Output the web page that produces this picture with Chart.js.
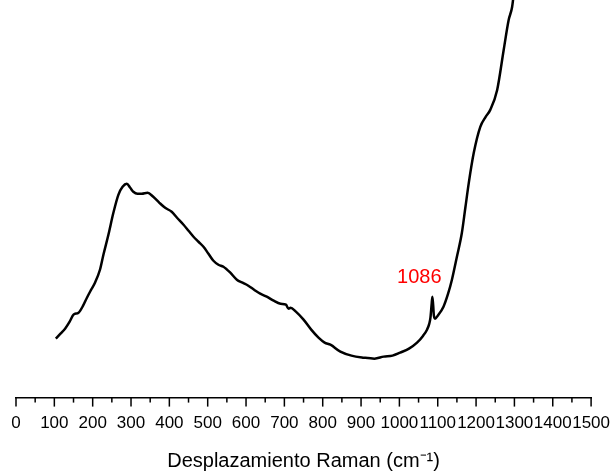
<!DOCTYPE html>
<html>
<head>
<meta charset="utf-8">
<script src="https://cdn.jsdelivr.net/npm/chart.js@4"></script>
<style>
  body { margin: 0; background: #fff; }
  #wrap { width: 610px; height: 475px; }
</style>
</head>
<body>
<div id="wrap"><canvas id="grafico-raman"></canvas></div>
<script>
// Raman shift (cm-1) and intensity (arb. units)
const desplazamiento = [104, 116, 128, 140, 150, 163, 175, 185, 196, 206, 219, 228, 241, 254, 267, 278, 289,
  298, 306, 317, 328, 343, 358, 374, 389, 406, 420, 437, 450, 463, 476, 489, 502, 515, 528, 541, 559, 576,
  591, 606, 621, 637, 654, 672, 690, 704, 711, 716, 730, 750, 770, 789, 805, 820, 846, 875, 907, 935, 959,
  982, 1002, 1025, 1046, 1062, 1072, 1078, 1081, 1084, 1086, 1088, 1090, 1093, 1100, 1115, 1127, 1137,
  1150, 1163, 1172, 1181, 1194, 1211, 1225, 1237, 1255, 1272, 1285, 1294, 1300];
const intensidad = [59, 64, 69, 76, 83, 85, 92, 100, 108, 115, 128, 143, 163, 185, 203, 211, 214,
  210, 206, 204, 204, 205, 201, 195, 190, 186, 180, 173, 167, 161, 156, 151, 144, 137, 133, 131, 125, 118,
  115, 112, 108, 104, 101, 97, 94, 93, 89, 90, 86, 78, 68, 60, 55, 53, 46, 42, 40, 39, 41,
  42, 45, 49, 55, 62, 68, 74, 80, 93, 101, 93, 82, 79, 82, 91, 104, 118,
  141, 165, 190, 215, 245, 271, 281, 288, 308, 348, 378, 391, 410];
const ticksX = [0, 100, 200, 300, 400, 500, 600, 700, 800, 900, 1000, 1100, 1200, 1300, 1400, 1500];
const picoEtiqueta = 1086;

const puntos = desplazamiento.map((x, i) => ({ x: x, y: intensidad[i] }));

// tick marks (major 100, minor 50) and the red peak label
const extras = {
  id: 'extras',
  afterDraw(chart) {
    const ctx = chart.ctx;
    const sx = chart.scales.x;
    const sy = chart.scales.y;
    const base = sx.top;
    ctx.save();
    ctx.strokeStyle = '#000';
    ctx.lineWidth = 1.5;
    for (let i = 0; i < ticksX.length; i++) {
      const px = sx.getPixelForValue(ticksX[i]);
      ctx.beginPath();
      ctx.moveTo(px, base);
      ctx.lineTo(px, base + 9);
      ctx.stroke();
      if (i < ticksX.length - 1) {
        const pm = sx.getPixelForValue((ticksX[i] + ticksX[i + 1]) / 2);
        ctx.beginPath();
        ctx.moveTo(pm, base);
        ctx.lineTo(pm, base + 5);
        ctx.stroke();
      }
    }
    const iPico = desplazamiento.indexOf(picoEtiqueta);
    ctx.fillStyle = '#ff0000';
    ctx.font = '20px "Liberation Sans", Arial, sans-serif';
    ctx.textAlign = 'center';
    ctx.textBaseline = 'middle';
    ctx.fillText(String(picoEtiqueta), sx.getPixelForValue(picoEtiqueta) - 13,
      sy.getPixelForValue(intensidad[iPico]) - 19);
    ctx.restore();
  }
};

const config = {
  type: 'line',
  data: {
    datasets: [{
      data: puntos,
      borderColor: '#000',
      borderWidth: 2.5,
      pointRadius: 0,
      fill: false,
      cubicInterpolationMode: 'monotone'
    }]
  },
  options: {
    responsive: true,
    maintainAspectRatio: false,
    animation: false,
    layout: { padding: { left: 16, right: 0, top: 0, bottom: 2 } },
    plugins: { legend: { display: false }, tooltip: { enabled: false } },
    scales: {
      x: {
        type: 'linear',
        min: 0,
        max: 1500,
        afterBuildTicks(scale) { scale.ticks = ticksX.map(v => ({ value: v })); },
        grid: { drawOnChartArea: false, tickLength: 16, tickColor: 'rgba(0,0,0,0)' },
        border: { color: '#000', width: 1.5 },
        ticks: {
          autoSkip: false,
          maxRotation: 0,
          padding: 0,
          color: '#000',
          callback: v => String(v),
          font: { family: '"Liberation Sans", Arial, sans-serif', size: 17 }
        },
        title: {
          display: true,
          text: 'Desplazamiento Raman (cm⁻¹)',
          color: '#000',
          padding: { top: 15, bottom: 0 },
          font: { family: '"Liberation Sans", Arial, sans-serif', size: 20 }
        }
      },
      y: {
        display: false,
        min: 0,
        max: 398
      }
    }
  },
  plugins: [extras]
};

const graficoRaman = new Chart(document.getElementById('grafico-raman'), config);
</script>
</body>
</html>
